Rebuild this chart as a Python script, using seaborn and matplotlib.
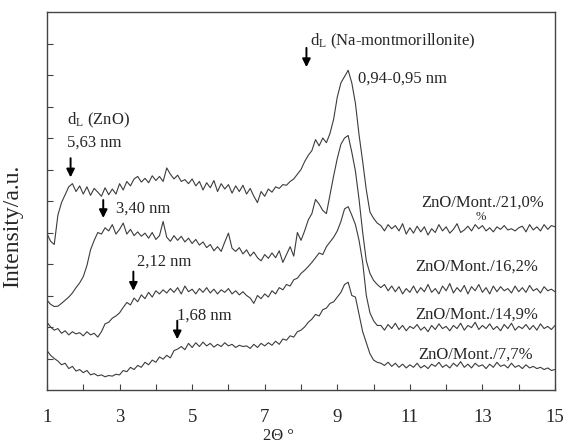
import numpy as np
import pandas as pd
import matplotlib
matplotlib.use("Agg")
import matplotlib.pyplot as plt
from matplotlib.ticker import FixedLocator, MultipleLocator, NullFormatter
import seaborn as sns

# Data (arbitrary intensity units)

two_theta = np.round(np.arange(1.0, 15.01, 0.1), 1)

zno_21 = [
    4.96, 4.72, 4.62, 5.55, 5.95, 6.20, 6.45, 6.55, 6.30, 6.48,
    6.22, 6.45, 6.18, 6.40, 6.28, 6.15, 6.42, 6.20, 6.38, 6.22,
    6.55, 6.35, 6.62, 6.48, 6.70, 6.78, 6.60, 6.72, 6.58, 6.80,
    6.65, 6.78, 6.62, 7.05, 6.85, 6.70, 6.82, 6.62, 6.68, 6.55,
    6.70, 6.48, 6.62, 6.35, 6.58, 6.42, 6.65, 6.30, 6.55, 6.38,
    6.52, 6.25, 6.48, 6.30, 6.50, 6.22, 6.40, 6.15, 5.95, 6.30,
    6.15, 6.38, 6.28, 6.45, 6.40, 6.52, 6.50, 6.62, 6.70, 6.85,
    7.00, 7.25, 7.45, 7.60, 7.95, 7.75, 8.00, 7.85, 8.15, 8.60,
    9.30, 9.75, 9.95, 10.15, 9.75, 9.10, 8.10, 7.25, 6.35, 5.65,
    5.45, 5.30, 5.22, 5.05, 5.25, 5.12, 5.22, 5.05, 5.28, 4.95,
    5.15, 4.98, 5.20, 5.02, 5.18, 4.92, 5.12, 5.00, 5.25, 5.05,
    5.18, 4.98, 5.10, 5.28, 5.00, 5.08, 5.20, 5.05, 5.25, 5.12,
    5.22, 5.05, 5.15, 5.02, 5.18, 5.10, 5.22, 5.08, 5.12, 5.05,
    5.15, 5.20, 5.02, 5.25, 5.08, 5.18, 5.05, 5.25, 5.10, 5.22,
    5.18,
]

zno_16 = [
    2.85, 2.72, 2.65, 2.66, 2.75, 2.85, 2.95, 3.08, 3.25, 3.40,
    3.60, 3.95, 4.45, 4.75, 5.00, 4.95, 5.15, 5.05, 5.25, 4.95,
    5.10, 5.30, 4.95, 5.10, 4.90, 5.02, 4.88, 4.98, 4.82, 5.00,
    4.78, 4.90, 5.35, 4.85, 4.72, 4.90, 4.75, 4.88, 4.70, 4.82,
    4.65, 4.78, 4.60, 4.70, 4.52, 4.62, 4.42, 4.55, 4.40, 4.70,
    4.98, 4.50, 4.40, 4.52, 4.32, 4.45, 4.25, 4.38, 4.20, 4.10,
    4.30, 4.18, 4.35, 4.20, 4.42, 4.05, 4.30, 4.55, 4.25, 5.00,
    4.75, 5.05, 5.40, 5.60, 6.05, 5.90, 5.70, 5.60, 6.20, 6.80,
    7.35, 7.80, 8.00, 8.08, 7.55, 6.95, 6.05, 5.00, 4.10, 3.70,
    3.48, 3.35, 3.25, 3.35, 3.15, 3.30, 3.12, 3.28, 3.05, 3.22,
    3.10, 3.30, 3.08, 3.25, 3.12, 3.35, 3.10, 3.22, 3.05, 3.30,
    3.15, 3.38, 3.08, 3.25, 3.12, 3.32, 3.05, 3.28, 3.15, 3.35,
    3.10, 3.25, 3.05, 3.30, 3.12, 3.28, 3.15, 3.22, 3.08, 3.30,
    3.12, 3.25, 3.10, 3.32, 3.15, 3.22, 3.08, 3.28, 3.15, 3.20,
    3.12,
]

zno_14 = [
    2.15, 2.00, 1.90, 1.95, 1.80, 1.88, 1.75, 1.85, 1.78, 1.82,
    1.72, 1.85, 1.75, 1.80, 1.68, 1.85, 2.10, 2.15, 2.28, 2.35,
    2.45, 2.62, 2.78, 2.70, 2.92, 2.80, 3.02, 2.90, 3.10, 2.95,
    3.15, 3.05, 3.18, 3.08, 3.22, 3.10, 3.25, 3.05, 3.30, 3.12,
    3.20, 3.05, 3.22, 3.10, 3.25, 3.08, 3.20, 3.05, 3.18, 3.10,
    3.22, 3.05, 3.15, 3.02, 3.12, 3.00, 2.92, 2.75, 3.00, 2.90,
    3.05, 2.95, 3.15, 3.05, 3.25, 3.18, 3.35, 3.30, 3.50, 3.55,
    3.70, 3.80, 3.92, 4.05, 4.20, 4.35, 4.30, 4.55, 4.70, 4.85,
    5.05, 5.35, 5.75, 5.82, 5.55, 5.25, 4.75, 4.05, 3.00, 2.45,
    2.20, 2.05, 2.05, 1.90, 2.08, 1.95, 2.12, 1.92, 2.05, 1.88,
    2.02, 1.95, 2.08, 1.90, 2.00, 1.85, 2.05, 1.92, 2.10, 1.95,
    2.02, 1.88, 2.05, 1.95, 2.12, 1.90, 2.05, 1.98, 2.15, 1.92,
    2.05, 1.95, 2.10, 1.92, 2.02, 1.88, 2.08, 1.95, 2.12, 1.90,
    2.02, 1.95, 2.08, 1.92, 2.05, 1.90, 2.10, 1.95, 2.02, 1.92,
    2.05,
]

zno_7 = [
    1.25, 1.10, 1.00, 0.92, 0.80, 0.85, 0.68, 0.75, 0.60, 0.65,
    0.55, 0.62, 0.48, 0.52, 0.45, 0.48, 0.42, 0.46, 0.44, 0.50,
    0.48, 0.62, 0.58, 0.72, 0.65, 0.78, 0.72, 0.88, 0.80, 0.95,
    0.88, 1.05, 0.98, 1.10, 1.02, 1.25, 1.30, 1.38, 1.28, 1.48,
    1.35, 1.50, 1.38, 1.52, 1.40, 1.48, 1.36, 1.45, 1.38, 1.50,
    1.40, 1.45, 1.35, 1.42, 1.38, 1.40, 1.32, 1.45, 1.35, 1.48,
    1.40, 1.50, 1.42, 1.55, 1.45, 1.62, 1.58, 1.72, 1.68, 1.85,
    1.90, 2.00, 2.15, 2.25, 2.40, 2.35, 2.55, 2.60, 2.75, 2.80,
    2.95, 3.10, 3.35, 3.42, 3.00, 2.95, 2.40, 1.85, 1.50, 1.15,
    0.95, 0.88, 0.85, 0.78, 0.88, 0.75, 0.85, 0.72, 0.82, 0.70,
    0.80, 0.72, 0.85, 0.70, 0.78, 0.68, 0.82, 0.75, 0.88, 0.72,
    0.80, 0.70, 0.85, 0.75, 0.90, 0.72, 0.82, 0.70, 0.85, 0.75,
    0.80, 0.68, 0.82, 0.72, 0.88, 0.75, 0.80, 0.70, 0.85, 0.72,
    0.78, 0.68, 0.80, 0.70, 0.75, 0.68, 0.72, 0.65, 0.70, 0.62,
    0.65,
]

series_names = ["ZnO/Mont./21,0%", "ZnO/Mont./16,2%",
                "ZnO/Mont./14,9%", "ZnO/Mont./7,7%"]
label_x = [14.70, 14.53, 14.54, 14.40]
label_y = [5.95, 3.91, 2.38, 1.11]

x_tick_labels = [1, 3, 5, 7, 9, 11, 13, 15]

# d-spacing annotations: text, text position, arrow x, arrow top, arrow tip
peak_texts = ["5,63 nm", "3,40 nm", "2,12 nm", "1,68 nm"]
peak_text_x = [1.54, 2.90, 3.47, 4.59]
peak_text_y = [7.86, 5.77, 4.07, 2.36]
arrow_x = [1.65, 2.55, 3.38, 4.59, 8.15]
arrow_top = [7.36, 6.03, 3.76, 2.20, 10.86]
arrow_tip = [6.75, 5.46, 3.15, 1.61, 10.25]

df = pd.DataFrame({
    "two_theta": np.tile(two_theta, 4),
    "intensity": zno_21 + zno_16 + zno_14 + zno_7,
    "sample": np.repeat(series_names, len(two_theta)),
})

# Style

sns.set_style("ticks")
plt.rcParams["font.family"] = ["Liberation Serif", "DejaVu Serif"]
plt.rcParams["mathtext.fontset"] = "custom"
plt.rcParams["mathtext.rm"] = "Liberation Serif"
plt.rcParams["mathtext.it"] = "Liberation Serif:italic"

fig = plt.figure(figsize=(5.68, 4.46), dpi=100)
ax = fig.add_axes([47 / 568, 56 / 446, 508 / 568, 378 / 446])

sns.lineplot(
    data=df, x="two_theta", y="intensity", units="sample",
    estimator=None, color="#3c3c3c", linewidth=0.8, ax=ax, legend=False
)

ax.set_xlim(1, 15)
ax.set_ylim(0, 12)

ax.xaxis.set_major_locator(FixedLocator(x_tick_labels))
ax.xaxis.set_minor_locator(MultipleLocator(1))
ax.set_xticklabels([str(v) for v in x_tick_labels])
ax.set_yticks(range(1, 12))
ax.yaxis.set_major_formatter(NullFormatter())
ax.tick_params(axis="both", which="both", direction="in", length=4,
               width=0.8, color="#444444")
ax.tick_params(axis="x", which="major", labelsize=13.5, pad=14)

for side in ["left", "right", "top", "bottom"]:
    ax.spines[side].set_color("#444444")
    ax.spines[side].set_linewidth(1.0)

ax.set_xlabel("2\u0398 \u00b0", fontsize=12)
ax.xaxis.set_label_coords(0.455, -0.100)
ax.set_ylabel("Intensity/a.u.", fontsize=17)
ax.yaxis.set_label_coords(-0.048, 0.434)

# Annotations

for name, lx, ly in zip(series_names, label_x, label_y):
    ax.text(lx, ly, name, ha="right", va="center", fontsize=12)
ax.text(12.95, 5.48, "%", ha="center", va="center", fontsize=9)

for t, tx, ty in zip(peak_texts, peak_text_x, peak_text_y):
    ax.text(tx, ty, t, ha="left", va="center", fontsize=12)

ax.text(1.54, 8.55, r"d$_{\mathrm{L}}$ (ZnO)", ha="left", va="center",
        fontsize=12)
ax.text(8.25, 11.06, r"d$_{\mathrm{L}}$ (Na-montmorillonite)", ha="left",
        va="center", fontsize=12)
ax.text(9.57, 9.90, "0,94-0,95 nm", ha="left", va="center", fontsize=12)

for axx, top, tip in zip(arrow_x, arrow_top, arrow_tip):
    ax.annotate("", xy=(axx, tip), xytext=(axx, top),
                arrowprops=dict(arrowstyle="-|>", color="black", lw=1.4,
                                mutation_scale=12, shrinkA=0, shrinkB=0))

plt.savefig("out.png", dpi=100)
